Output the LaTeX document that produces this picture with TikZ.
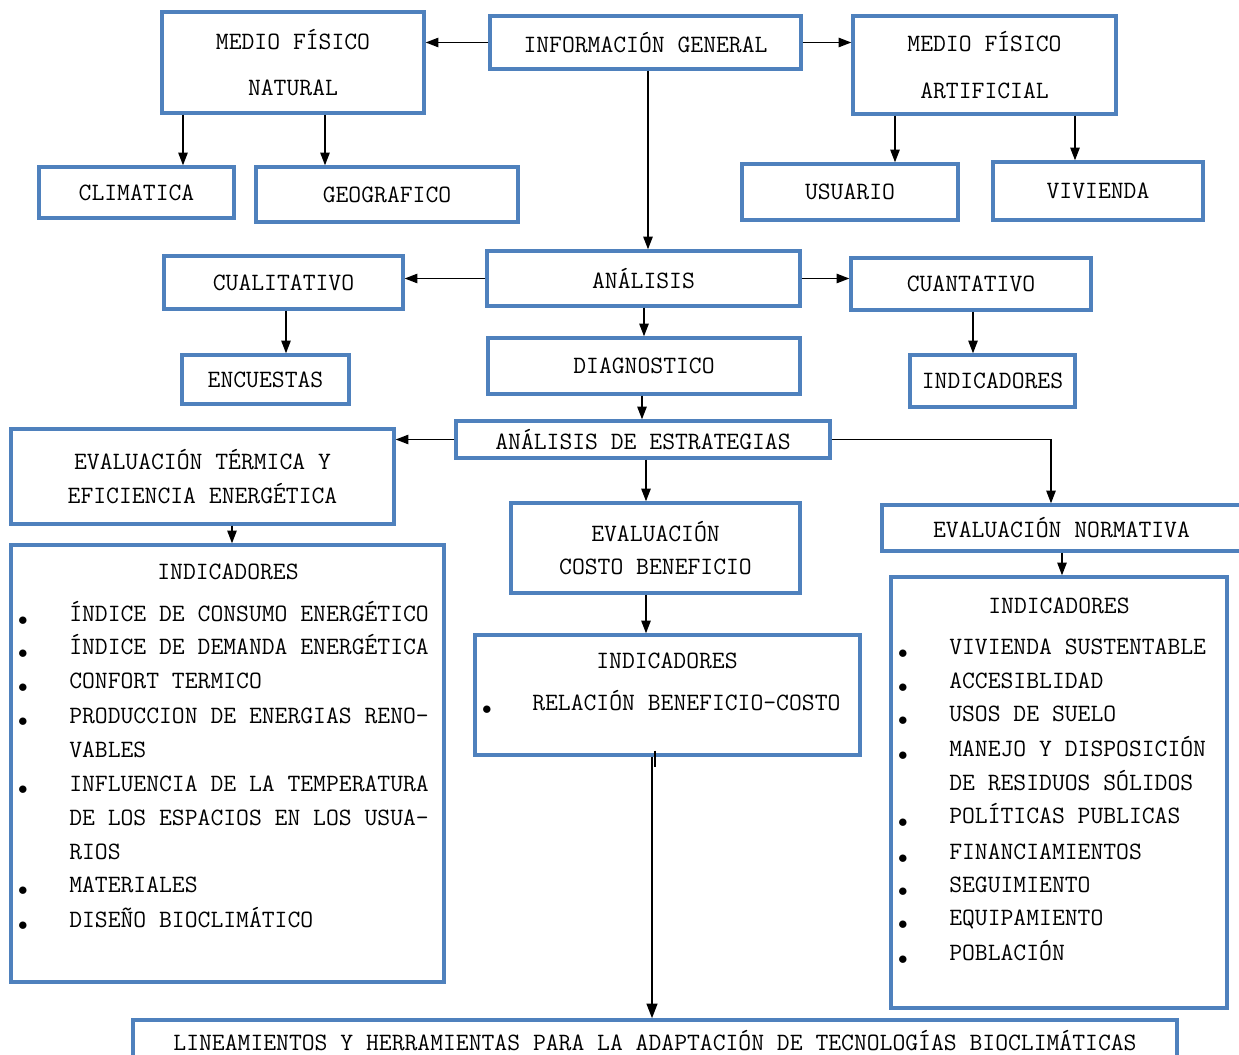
\documentclass[tikz,border=0pt]{standalone}
\usepackage{fontspec}
\usetikzlibrary{arrows.meta,calc}
\definecolor{bblue}{RGB}{79,129,189}
\newcommand\mkbox[6]{\node[box,minimum width={(#4-#2)*0.75pt},minimum height={(#5-#3)*0.75pt}] (#1) at ({(#2+#4)/2},{(#3+#5)/2}) {#6};}
\newcommand\bfont{\ttfamily\fontsize{18.7}{25}\selectfont}
\begin{document}
\begin{tikzpicture}[x=0.75pt,y=-0.75pt,
 box/.style={draw=bblue,line width=2.5pt,inner sep=0pt,align=center,font=\bfont},
 txt/.style={inner sep=0pt,anchor=mid west,font=\bfont},
 lab/.style={inner sep=0pt,anchor=center,font=\bfont},
 dot/.style={inner sep=0pt,anchor=center,font=\fontsize{14}{14}\selectfont},
 arr/.style={line width=1.1pt,-{Triangle[length=9.5pt,width=7pt]}}]
\useasboundingbox[fill=white] (0,0) rectangle (1239,1055);
% boxes
\mkbox{mfn}{162}{12}{424}{113}{MEDIO FÍSICO\\[10pt]NATURAL}
\mkbox{info}{490}{16}{801}{69}{INFORMACIÓN GENERAL}
\mkbox{mfa}{853}{16}{1116}{114}{MEDIO FÍSICO\\[10pt]ARTIFICIAL}
\mkbox{clim}{39}{167}{234}{218}{CLIMATICA}
\mkbox{geo}{256}{167}{518}{222}{GEOGRAFICO}
\mkbox{usu}{742}{164}{958}{220}{USUARIO}
\mkbox{viv}{993}{162}{1203}{220}{VIVIENDA}
\mkbox{cual}{164}{256}{403}{309}{CUALITATIVO}
\mkbox{ana}{487}{251}{800}{306}{ANÁLISIS}
\mkbox{cuan}{851}{258}{1091}{310}{CUANTATIVO}
\mkbox{enc}{182}{355}{349}{404}{ENCUESTAS}
\mkbox{diag}{488}{338}{800}{394}{DIAGNOSTICO}
\mkbox{indA}{910}{355}{1075}{407}{INDICADORES}
\mkbox{estr}{456}{421}{830}{458}{ANÁLISIS DE ESTRATEGIAS}
\mkbox{term}{11}{429}{394}{524}{EVALUACIÓN TÉRMICA Y\\EFICIENCIA ENERGÉTICA}
\mkbox{costo}{511}{503}{800}{593}{EVALUACIÓN\\COSTO BENEFICIO}
\mkbox{norm}{882}{505}{1241}{551}{EVALUACIÓN NORMATIVA}
\mkbox{indL}{11}{545}{444}{982}{}
\mkbox{indM}{475}{635}{860}{755}{}
\mkbox{indR}{891}{577}{1227}{1008}{}
\mkbox{lin}{133}{1020}{1177}{1075}{}
\node[lab] (linT) at (655,1041) {LINEAMIENTOS Y HERRAMIENTAS PARA LA ADAPTACIÓN DE TECNOLOGÍAS BIOCLIMÁTICAS};
% left list
\node[lab] (tL) at (228,572) {INDICADORES};
\node[dot] (bL1) at (23,621) {$\bullet$};
\node[dot] (bL2) at (23,654) {$\bullet$};
\node[dot] (bL3) at (23,688) {$\bullet$};
\node[dot] (bL4) at (23,722) {$\bullet$};
\node[dot] (bL5) at (23,790) {$\bullet$};
\node[dot] (bL6) at (23,891) {$\bullet$};
\node[dot] (bL7) at (23,926) {$\bullet$};
\node[txt] (L1) at (69,619) {ÍNDICE DE CONSUMO ENERGÉTICO};
\node[txt] (L2) at (69,652) {ÍNDICE DE DEMANDA ENERGÉTICA};
\node[txt] (L3) at (69,686) {CONFORT TERMICO};
\node[txt] (L4) at (69,721) {PRODUCCION DE ENERGIAS RENO-};
\node[txt] (L5) at (69,755) {VABLES};
\node[txt] (L6) at (69,789) {INFLUENCIA DE LA TEMPERATURA};
\node[txt] (L7) at (69,823) {DE LOS ESPACIOS EN LOS USUA-};
\node[txt] (L8) at (69,857) {RIOS};
\node[txt] (L9) at (69,890) {MATERIALES};
\node[txt] (L10) at (69,925) {DISEÑO BIOCLIMÁTICO};
% middle list
\node[lab] (tM) at (667,661) {INDICADORES};
\node[dot] (bM1) at (487,710) {$\bullet$};
\node[txt] (M1) at (532,708) {RELACIÓN BENEFICIO-COSTO};
% right list
\node[lab] (tR) at (1059,606) {INDICADORES};
\node[dot] (bR1) at (903,654) {$\bullet$};
\node[dot] (bR2) at (903,688) {$\bullet$};
\node[dot] (bR3) at (903,721) {$\bullet$};
\node[dot] (bR4) at (903,756) {$\bullet$};
\node[dot] (bR5) at (903,823) {$\bullet$};
\node[dot] (bR6) at (903,859) {$\bullet$};
\node[dot] (bR7) at (903,892) {$\bullet$};
\node[dot] (bR8) at (903,925) {$\bullet$};
\node[dot] (bR9) at (903,960) {$\bullet$};
\node[txt] (R1) at (949,652) {VIVIENDA SUSTENTABLE};
\node[txt] (R2) at (949,686) {ACCESIBLIDAD};
\node[txt] (R3) at (949,719) {USOS DE SUELO};
\node[txt] (R4) at (949,754) {MANEJO Y DISPOSICIÓN};
\node[txt] (R5) at (949,788) {DE RESIDUOS SÓLIDOS};
\node[txt] (R6) at (949,821) {POLÍTICAS PUBLICAS};
\node[txt] (R7) at (949,857) {FINANCIAMIENTOS};
\node[txt] (R8) at (949,890) {SEGUIMIENTO};
\node[txt] (R9) at (949,923) {EQUIPAMIENTO};
\node[txt] (R10) at (949,958) {POBLACIÓN};
% connectors
\draw[arr] (info.west) -- (info.west -| mfn.east);
\draw[arr] (info.east) -- (info.east -| mfa.west);
\draw[arr] (mfn.south -| 183,0) -- (clim.north -| 183,0);
\draw[arr] (mfn.south -| 325,0) -- (geo.north -| 325,0);
\draw[arr] (mfa.south -| 895,0) -- (usu.north -| 895,0);
\draw[arr] (mfa.south -| 1075,0) -- (viv.north -| 1075,0);
\draw[arr] (info.south -| 648,0) -- (ana.north -| 648,0);
\draw[arr] (ana.west) -- (ana.west -| cual.east);
\draw[arr] (ana.east) -- (ana.east -| cuan.west);
\draw[arr] (cual.south -| 286,0) -- (enc.north -| 286,0);
\draw[arr] (cuan.south -| 973,0) -- (indA.north -| 973,0);
\draw[arr] (ana.south -| 644,0) -- (diag.north -| 644,0);
\draw[arr] (diag.south -| 642,0) -- (estr.north -| 642,0);
\draw[arr] (estr.west) -- (estr.west -| term.east);
\draw[arr] (estr.east) -| (norm.north -| 1051,0);
\draw[arr] (estr.south -| 646,0) -- (costo.north -| 646,0);
\draw[arr] (term.south -| 232,0) -- (indL.north -| 232,0);
\draw[arr] (costo.south -| 646,0) -- (indM.north -| 646,0);
\draw[arr] (norm.south -| 1062,0) -- (indR.north -| 1062,0);
\draw[arr,line width=1.6pt,-{Triangle[length=11pt,width=8pt]}] (indM.south -| 652,0) -- (lin.north -| 652,0);
\draw[line width=0.8pt] (indM.south -| 655,0) ++(0,-6) -- ++(0,16);
\end{tikzpicture}
\end{document}
